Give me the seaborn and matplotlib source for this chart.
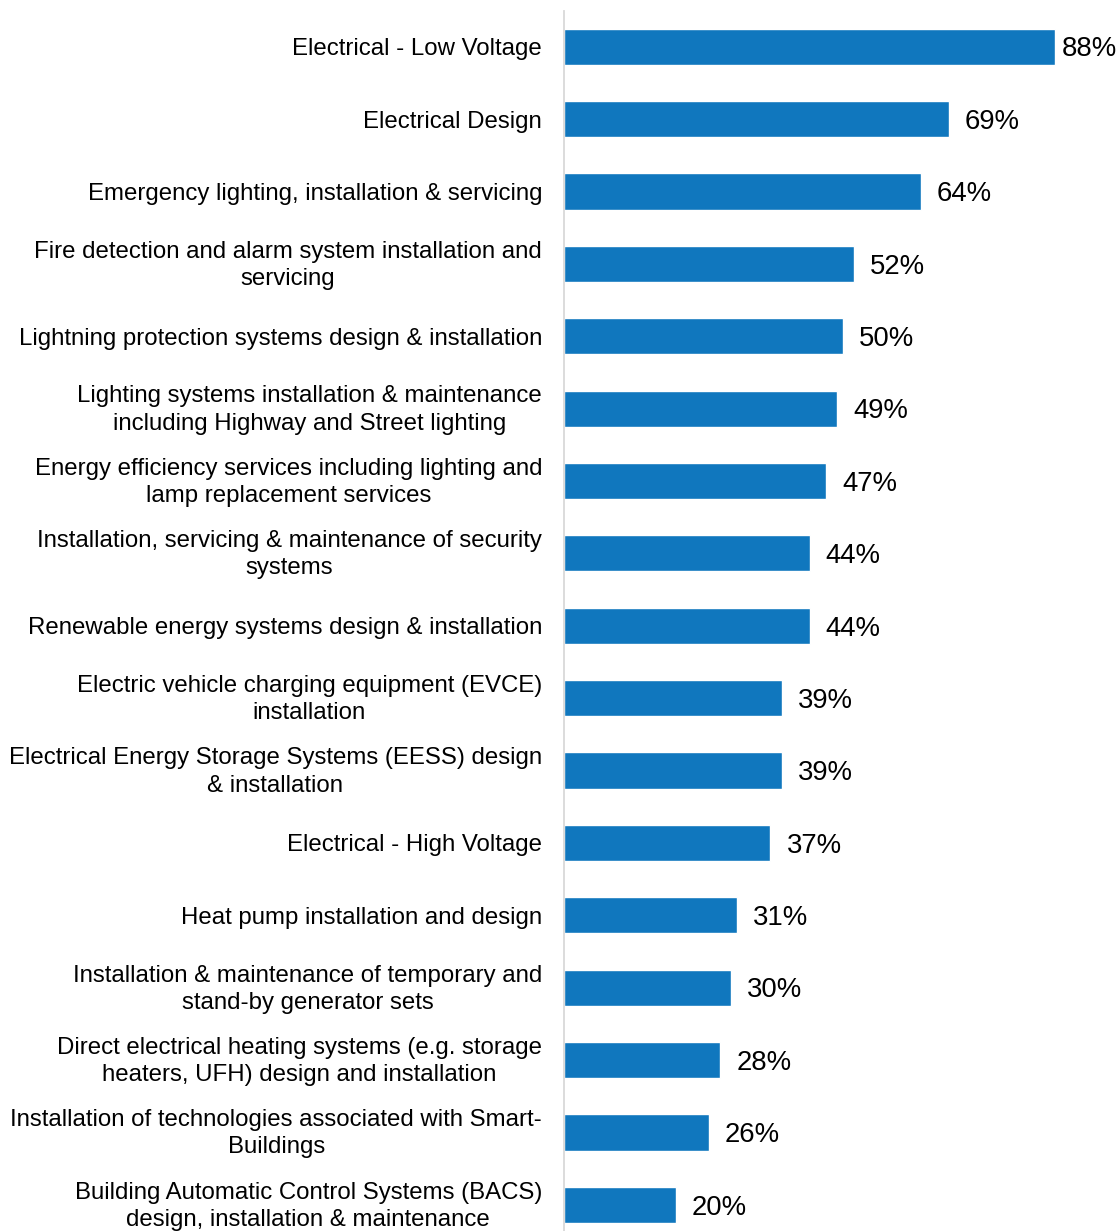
import matplotlib
matplotlib.use("Agg")
import matplotlib.pyplot as plt
import matplotlib.transforms as mtransforms
import seaborn as sns
import pandas as pd

categories = [
    "Electrical - Low Voltage",
    "Electrical Design",
    "Emergency lighting, installation & servicing",
    "Fire detection and alarm system installation and\nservicing",
    "Lightning protection systems design & installation",
    "Lighting systems installation & maintenance\nincluding Highway and Street lighting",
    "Energy efficiency services including lighting and\nlamp replacement services",
    "Installation, servicing & maintenance of security\nsystems",
    "Renewable energy systems design & installation",
    "Electric vehicle charging equipment (EVCE)\ninstallation",
    "Electrical Energy Storage Systems (EESS) design\n& installation",
    "Electrical - High Voltage",
    "Heat pump installation and design",
    "Installation & maintenance of temporary and\nstand-by generator sets",
    "Direct electrical heating systems (e.g. storage\nheaters, UFH) design and installation",
    "Installation of technologies associated with Smart-\nBuildings",
    "Building Automatic Control Systems (BACS)\ndesign, installation & maintenance",
]
values = [88, 69, 64, 52, 50, 49, 47, 44, 44, 39, 39, 37, 31, 30, 28, 26, 20]

bar_color = "#1077BE"

sns.set_theme(style="white")
plt.rcParams["font.family"] = ["Liberation Sans", "DejaVu Sans"]

df = pd.DataFrame({"service": categories, "share": values})

W, H = 1120, 1231
fig = plt.figure(figsize=(W / 100, H / 100), dpi=100)
ax = fig.add_axes([564 / W, -10 / H, 558 / W, 1230.5 / H])

sns.barplot(data=df, x="share", y="service", color=bar_color, saturation=1,
            width=0.5, orient="h", ax=ax)

ax.set_xlim(0, 100)
ax.set_ylim(len(categories) - 0.5, -0.5)
ax.set_xlabel("")
ax.set_ylabel("")
ax.set_xticks([])

for side in ("top", "right", "bottom"):
    ax.spines[side].set_visible(False)
ax.spines["left"].set_color("#D9D9D9")
ax.spines["left"].set_linewidth(1.3)

ax.tick_params(axis="y", length=0, pad=15.8, labelsize=17.3, colors="black")
lift = mtransforms.ScaledTranslation(0, 2.6 / 72, fig.dpi_scale_trans)
for lbl in ax.get_yticklabels():
    lbl.set_multialignment("center")
    lbl.set_horizontalalignment("right")
    lbl.set_linespacing(1.3)
    if "\n" in lbl.get_text():
        lbl.set_transform(lbl.get_transform() + lift)

# value labels to the right of each bar, kept inside the figure
fig.canvas.draw()
renderer = fig.canvas.get_renderer()
dy = -2.0
for i, v in enumerate(values):
    t = ax.annotate(f"{v}%", xy=(v, i), xytext=(11.5, dy), textcoords="offset points",
                    ha="left", va="center", fontsize=19.8, color="black",
                    annotation_clip=False)
    bb = t.get_window_extent(renderer)
    if bb.x1 > W - 3:
        shift = (bb.x1 - (W - 3)) * 72 / 100
        t.set_position((max(11.5 - shift, 2.0), dy))

fig.savefig("out.png", dpi=100)
